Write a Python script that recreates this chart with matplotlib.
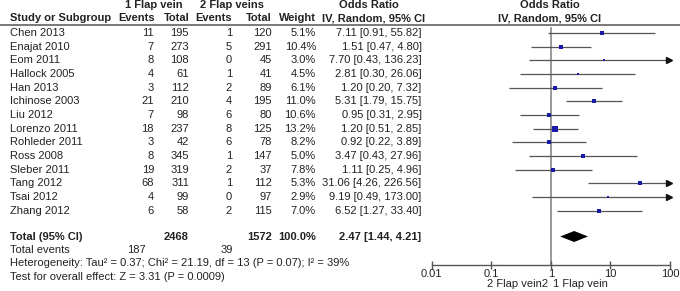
import matplotlib
matplotlib.use("Agg")
import matplotlib.pyplot as plt
import numpy as np

plt.rcParams['font.family'] = ['Liberation Sans', 'DejaVu Sans']

studies = ["Chen 2013", "Enajat 2010", "Eom 2011", "Hallock 2005", "Han 2013",
           "Ichinose 2003", "Liu 2012", "Lorenzo 2011", "Rohleder 2011", "Ross 2008",
           "Sleber 2011", "Tang 2012", "Tsai 2012", "Zhang 2012"]
events1 = [11, 7, 8, 4, 3, 21, 7, 18, 3, 8, 19, 68, 4, 6]
total1 = [195, 273, 108, 61, 112, 210, 98, 237, 42, 345, 319, 311, 99, 58]
events2 = [1, 5, 0, 1, 2, 4, 6, 8, 6, 1, 2, 1, 0, 2]
total2 = [120, 291, 45, 41, 89, 195, 80, 125, 78, 147, 37, 112, 97, 115]
weights = [5.1, 10.4, 3.0, 4.5, 6.1, 11.0, 10.6, 13.2, 8.2, 5.0, 7.8, 5.3, 2.9, 7.0]
odds = [7.11, 1.51, 7.70, 2.81, 1.20, 5.31, 0.95, 1.20, 0.92, 3.47, 1.11, 31.06, 9.19, 6.52]
ci_low = [0.91, 0.47, 0.43, 0.30, 0.20, 1.79, 0.31, 0.51, 0.22, 0.43, 0.25, 4.26, 0.49, 1.27]
ci_high = [55.82, 4.80, 136.23, 26.06, 7.32, 15.75, 2.95, 2.85, 3.89, 27.96, 4.96, 226.56, 173.00, 33.40]
total_n1, total_n2 = 2468, 1572
total_ev1, total_ev2 = 187, 39
pooled_or, pooled_lo, pooled_hi = 2.47, 1.44, 4.21
het_text = "Heterogeneity: Tau\u00b2 = 0.37; Chi\u00b2 = 21.19, df = 13 (P = 0.07); I\u00b2 = 39%"
test_text = "Test for overall effect: Z = 3.31 (P = 0.0009)"
xticks = [0.01, 0.1, 1, 10, 100]
xticklabels = ["0.01", "0.1", "1", "10", "100"]

W, H = 680, 291
fig = plt.figure(figsize=(W / 100, H / 100), dpi=100)
ax = fig.add_axes([0, 0, 1, 1])
ax.set_xlim(0, W)
ax.set_ylim(H, 0)
ax.axis('off')

fs = 8
tc = '#222222'
row0, step = 33.0, 13.68
rows = [row0 + i * step for i in range(len(studies))]
y_total = 236.5
y_tev = 250.0
y_het = 263.3
y_test = 276.7

# headers
ax.text(125, 5, "1 Flap vein", fontsize=fs, fontweight='bold', color=tc, va='center', ha='left')
ax.text(200, 5, "2 Flap veins", fontsize=fs, fontweight='bold', color=tc, va='center', ha='left')
ax.text(369, 5, "Odds Ratio", fontsize=fs, fontweight='bold', color=tc, va='center', ha='center')
ax.text(550, 5, "Odds Ratio", fontsize=fs, fontweight='bold', color=tc, va='center', ha='center')
hy = 18.3
ax.text(10, hy, "Study or Subgroup", fontsize=fs, fontweight='bold', color=tc, va='center', ha='left')
ax.text(155, hy, "Events", fontsize=fs, fontweight='bold', color=tc, va='center', ha='right')
ax.text(190, hy, "Total", fontsize=fs, fontweight='bold', color=tc, va='center', ha='right')
ax.text(232, hy, "Events", fontsize=fs, fontweight='bold', color=tc, va='center', ha='right')
ax.text(272, hy, "Total", fontsize=fs, fontweight='bold', color=tc, va='center', ha='right')
ax.text(316, hy, "Weight", fontsize=fs, fontweight='bold', color=tc, va='center', ha='right')
ax.text(374, hy, "IV, Random, 95% CI", fontsize=fs, fontweight='bold', color=tc, va='center', ha='center')
ax.text(550, hy, "IV, Random, 95% CI", fontsize=fs, fontweight='bold', color=tc, va='center', ha='center')
ax.plot([0, W], [25, 25], color='#555555', lw=1.1, solid_capstyle='butt')

for i, y in enumerate(rows):
    ax.text(10, y, studies[i], fontsize=fs, color=tc, va='center', ha='left')
    ax.text(154, y, str(events1[i]), fontsize=fs, color=tc, va='center', ha='right')
    ax.text(189, y, str(total1[i]), fontsize=fs, color=tc, va='center', ha='right')
    ax.text(232, y, str(events2[i]), fontsize=fs, color=tc, va='center', ha='right')
    ax.text(272, y, str(total2[i]), fontsize=fs, color=tc, va='center', ha='right')
    ax.text(316, y, f"{weights[i]:.1f}%", fontsize=fs, color=tc, va='center', ha='right')
    ax.text(421.5, y, f"{odds[i]:.2f} [{ci_low[i]:.2f}, {ci_high[i]:.2f}]", fontsize=fs,
            color=tc, va='center', ha='right')

ax.text(10, y_total, "Total (95% CI)", fontsize=fs, fontweight='bold', color=tc, va='center', ha='left')
ax.text(189, y_total, str(total_n1), fontsize=fs, fontweight='bold', color=tc, va='center', ha='right')
ax.text(272, y_total, str(total_n2), fontsize=fs, fontweight='bold', color=tc, va='center', ha='right')
ax.text(316, y_total, "100.0%", fontsize=fs, fontweight='bold', color=tc, va='center', ha='right')
ax.text(421.5, y_total, f"{pooled_or:.2f} [{pooled_lo:.2f}, {pooled_hi:.2f}]", fontsize=fs,
        fontweight='bold', color=tc, va='center', ha='right')
ax.text(10, y_tev, "Total events", fontsize=fs, color=tc, va='center', ha='left')
ax.text(146, y_tev, str(total_ev1), fontsize=fs, color=tc, va='center', ha='right')
ax.text(233, y_tev, str(total_ev2), fontsize=fs, color=tc, va='center', ha='right')
ax.text(10, y_het, het_text, fontsize=fs, color=tc, va='center', ha='left')
ax.text(10, y_test, test_text, fontsize=fs, color=tc, va='center', ha='left')

# forest plot axes
x0, x1 = 431.5, 670.0
fx = fig.add_axes([x0 / W, 0, (x1 - x0) / W, 1])
fx.set_xscale('log')
fx.set_xlim(0.01, 100)
fx.set_ylim(H, 0)
fx.patch.set_visible(False)
for s in ['left', 'top', 'right']:
    fx.spines[s].set_visible(False)
y_axis = 264.7
fx.spines['bottom'].set_position(('data', y_axis))
fx.spines['bottom'].set_color('#555555')
fx.spines['bottom'].set_linewidth(1.0)
fx.set_yticks([])
fx.set_xticks(xticks)
fx.set_xticklabels(xticklabels)
fx.xaxis.set_minor_locator(matplotlib.ticker.NullLocator())
fx.tick_params(axis='x', direction='inout', length=6, width=1.0, color='#555555',
               labelsize=fs, labelcolor=tc, pad=0)

fx.plot([1, 1], [28, y_axis], color='#888888', lw=1.2, zorder=1)

for i, y in enumerate(rows):
    hi = min(ci_high[i], 100)
    fx.plot([ci_low[i], hi], [y, y], color='#555555', lw=0.9, zorder=2, clip_on=False,
            solid_capstyle='butt')
    if ci_high[i] > 100:
        fx.plot([96], [y], marker='>', color='#111111', markersize=4, zorder=3, clip_on=False)
    fx.plot([odds[i]], [y], marker='s', color='#1a1aa8', markersize=1.0 * np.sqrt(weights[i]),
            markeredgewidth=0, zorder=4, clip_on=False)

dh = 5.5
fx.fill([pooled_lo, pooled_or, pooled_hi, pooled_or], [y_total, y_total - dh, y_total, y_total + dh],
        color='black', zorder=4, lw=0)

fx.text(0.92, 284, "2 Flap vein2", fontsize=fs, color=tc, va='center', ha='right')
fx.text(1.1, 284, "1 Flap vein", fontsize=fs, color=tc, va='center', ha='left')

fig.savefig("out.png", dpi=100)
